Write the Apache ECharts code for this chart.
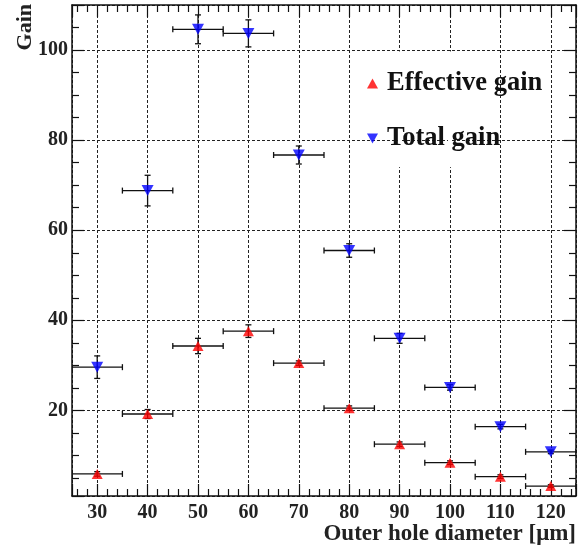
<!DOCTYPE html>
<html><head><meta charset="utf-8">
<script src="https://cdn.jsdelivr.net/npm/echarts@6/dist/echarts.min.js"></script>
<style>html,body{margin:0;padding:0;background:#fff}#c{width:587px;height:548px}</style>
</head><body><div id="c"></div><script>
const diameters = [30, 40, 50, 60, 70, 80, 90, 100, 110, 120];
const diameterErr = [5, 5, 5, 5, 5, 5, 5, 5, 5, 5];
const effectiveGain = [5.9, 19.2, 34.3, 37.6, 30.5, 20.5, 12.5, 8.4, 5.3, 3.2];
const effectiveErr = [0.5, 1.0, 1.7, 1.4, 0.5, 0.5, 0.5, 0.4, 0.4, 0.3];
const totalGain = [29.6, 68.8, 104.6, 103.7, 76.7, 55.5, 36.0, 25.1, 16.4, 10.8];
const totalErr = [2.5, 3.4, 3.2, 3.0, 2.0, 1.5, 1.1, 0.6, 0.5, 0.4];
const seriesNames = ['Effective gain', 'Total gain'];
const xTitle = 'Outer hole diameter [\u03bcm]';
const yTitle = 'Gain';
// grid lines hidden behind the legend box (x positions, y range)
const legendHiddenX = [90, 100];
const legendHiddenY = [74, 99.7];

const FONT = '"Liberation Serif", "DejaVu Serif", serif';
const upTri = 'path://M5,0 L10,9 L0,9 Z';
const downTri = 'path://M0,0 L10,0 L5,9 Z';

function errData(ys, es) {
  return diameters.map((x, i) => [x, ys[i], diameterErr[i], es[i]]);
}
function renderErr(params, api) {
  const x = api.value(0), y = api.value(1), ex = api.value(2), ey = api.value(3);
  const l = api.coord([x - ex, y]), r = api.coord([x + ex, y]);
  const t = api.coord([x, y + ey]), b = api.coord([x, y - ey]);
  const cap = 3;
  const st = { stroke: '#111', lineWidth: 1.3 };
  const ln = (x1, y1, x2, y2) => ({ type: 'line', shape: { x1, y1, x2, y2 }, style: st });
  return {
    type: 'group',
    children: [
      ln(l[0], l[1], r[0], r[1]),
      ln(l[0], l[1] - cap, l[0], l[1] + cap),
      ln(r[0], r[1] - cap, r[0], r[1] + cap),
      ln(t[0], t[1], b[0], b[1]),
      ln(t[0] - cap, t[1], t[0] + cap, t[1]),
      ln(b[0] - cap, b[1], b[0] + cap, b[1])
    ]
  };
}

const axisLineStyle = { lineStyle: { color: '#111', width: 1.5 } };
const splitLineStyle = { show: true, lineStyle: { color: '#222', type: [3, 2], width: 1 } };

function xAx(pos, main) {
  return {
    type: 'value', position: pos, min: 25, max: 125, splitNumber: 10,
    axisLine: { show: true, onZero: false, ...axisLineStyle },
    axisTick: { show: true, inside: true, length: 12, lineStyle: { color: '#111', width: 1.2 } },
    minorTick: { show: true, splitNumber: 5, length: 7, lineStyle: { color: '#111', width: 1.2 } },
    splitLine: main ? splitLineStyle : { show: false },
    axisLabel: main ? {
      show: true, margin: 7, color: '#222', fontFamily: FONT, fontWeight: 'bold', fontSize: 20,
      formatter: v => (v % 10 === 0 ? String(v) : '')
    } : { show: false }
  };
}
function yAx(pos, main) {
  return {
    type: 'value', position: pos, min: 1, max: 110, splitNumber: 5,
    axisLine: { show: true, onZero: false, ...axisLineStyle },
    axisTick: { show: true, inside: true, length: 12, lineStyle: { color: '#111', width: 1.2 } },
    minorTick: { show: true, splitNumber: 4, length: 7, lineStyle: { color: '#111', width: 1.2 } },
    splitLine: main ? splitLineStyle : { show: false },
    axisLabel: main ? {
      show: true, margin: 4, color: '#222', fontFamily: FONT, fontWeight: 'bold', fontSize: 20,
      formatter: v => (v % 20 === 0 ? String(v) : '')
    } : { show: false }
  };
}

const chart = echarts.init(document.getElementById('c'), null, { renderer: 'canvas' });
chart.setOption({
  animation: false,
  backgroundColor: '#fff',
  grid: { left: 72, right: 11, top: 5, bottom: 52, containLabel: false },
  xAxis: [xAx('bottom', true), xAx('top', false)],
  yAxis: [yAx('left', true), yAx('right', false)],
  legend: {
    data: seriesNames, orient: 'vertical', left: 362, top: 65, itemGap: 28,
    itemWidth: 11, itemHeight: 10, z: 10,
    textStyle: { fontFamily: FONT, fontWeight: 'bold', fontSize: 26.5, color: '#111', padding: [0, 0, 0, 4] }
  },
  graphic: [
    { id: 'ytitle', type: 'text', x: 25, y: 4, rotation: Math.PI / 2,
      style: { text: yTitle, font: 'bold 22px ' + FONT, fill: '#222', align: 'right', verticalAlign: 'middle' } },
    { id: 'xtitle', type: 'text', right: 11, top: 523,
      style: { text: xTitle, font: 'bold 23px ' + FONT, fill: '#222' } }
  ],
  series: [
    { type: 'custom', name: 'effErr', renderItem: renderErr, data: errData(effectiveGain, effectiveErr), clip: true, z: 3 },
    { type: 'custom', name: 'totErr', renderItem: renderErr, data: errData(totalGain, totalErr), clip: true, z: 3 },
    { type: 'scatter', name: seriesNames[0], symbol: upTri, symbolSize: [11, 10], itemStyle: { color: '#ff0000' },
      data: diameters.map((x, i) => [x, effectiveGain[i]]), z: 4 },
    { type: 'scatter', name: seriesNames[1], symbol: downTri, symbolSize: [12, 11], itemStyle: { color: '#0000ff' },
      data: diameters.map((x, i) => [x, totalGain[i]]), z: 4 }
  ]
});
// white masks over the grid lines that the legend box hides in the reference
const masks = legendHiddenX.map((xv, i) => {
  const top = chart.convertToPixel({ xAxisIndex: 0, yAxisIndex: 0 }, [xv, legendHiddenY[1]]);
  const bot = chart.convertToPixel({ xAxisIndex: 0, yAxisIndex: 0 }, [xv, legendHiddenY[0]]);
  return { id: 'mask' + i, type: 'rect', z: 1, shape: { x: top[0] - 2, y: top[1], width: 4, height: bot[1] - top[1] },
    style: { fill: '#fff' } };
});
chart.setOption({ graphic: masks });
</script></body></html>
